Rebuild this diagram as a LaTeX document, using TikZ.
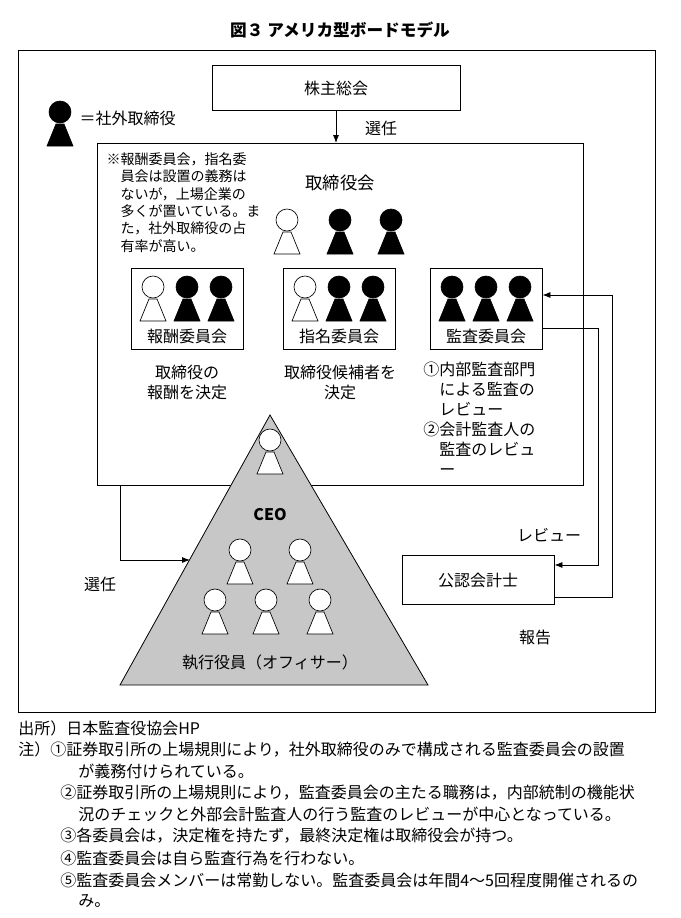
\documentclass[tikz,border=0pt]{standalone}
\usepackage{fontspec}
\setmainfont{Noto Sans CJK JP}
\usetikzlibrary{arrows.meta}
\begin{document}
\begin{tikzpicture}[x=0.75pt, y=-0.75pt,
    box/.style={draw, line width=0.6pt},
    txt/.style={font=\fontsize{12}{15}\selectfont},
    note/.style={font=\fontsize{10.5}{13}\selectfont, align=left, anchor=north west},
    foot/.style={font=\fontsize{12}{15}\selectfont, anchor=west, inner sep=0pt},
    arr/.style={-{Latex[length=6pt]}, line width=0.6pt},
    pics/person/.style={code={
      \draw[fill=#1, line width=0.5pt] (-13,34) -- (-4,12) -- (4,12) -- (13,34) -- cycle;
      \draw[fill=#1, line width=0.5pt] (0,0) circle[radius=11];}}]
  \useasboundingbox (0,0) rectangle (681,918);
  % title and frame
  \node[font=\bfseries\fontsize{12.5}{15}\selectfont] (title) at (340,30) {図３ アメリカ型ボードモデル};
  \draw[line width=0.6pt] (18,50) rectangle (655,712);
  % legend
  \pic at (60,112) {person=black};
  \node[txt, anchor=west] (legend) at (75,118) {＝社外取締役};
  % shareholders
  \node[box, minimum width=186pt, minimum height=34pt, txt] (share) at (336,88) {株主総会};
  \coordinate (boardtop) at (336,143);
  \draw[arr] (share) -- (boardtop);
  \node[txt] (elect1) at (381,128) {選任};
  % board
  \draw[line width=0.6pt] (97,143) rectangle (583,485);
  \node[note] (remark) at (102,148) {※報酬委員会，指名委\\\hspace*{1em}員会は設置の義務は\\\hspace*{1em}ないが，上場企業の\\\hspace*{1em}多くが置いている。ま\\\hspace*{1em}た，社外取締役の占\\\hspace*{1em}有率が高い。};
  \node[txt, font=\fontsize{13}{15}\selectfont] (board) at (340,183) {取締役会};
  \pic at (287,220) {person=white};
  \pic at (340,220) {person=black};
  \pic at (391,220) {person=black};
  % committees
  \node[box, minimum width=84pt, minimum height=61pt] (comp) at (187,309) {};
  \node[box, minimum width=84pt, minimum height=61pt] (nomi) at (339,309) {};
  \node[box, minimum width=84pt, minimum height=61pt] (audit) at (486,309) {};
  \foreach \cx/\lab in {187/報酬委員会, 339/指名委員会, 486/監査委員会} {
    \node[txt] at (\cx,336) {\lab};
  }
  \pic at (153,287) {person=white};
  \pic at (187,287) {person=black};
  \pic at (221,287) {person=black};
  \pic at (305,287) {person=white};
  \pic at (339,287) {person=black};
  \pic at (373,287) {person=black};
  \pic at (452,287) {person=black};
  \pic at (486,287) {person=black};
  \pic at (520,287) {person=black};
  \node[txt, align=center] (compdo) at (187,382) {取締役の\\報酬を決定};
  \node[txt, align=center] (nomido) at (340,382) {取締役候補者を\\決定};
  \node[txt, align=left, anchor=north west, inner sep=0pt] (auditdo) at (423,362)
    {①内部監査部門\\\hspace*{1em}による監査の\\\hspace*{1em}レビュー\\②会計監査人の\\\hspace*{1em}監査のレビュ\\\hspace*{1em}ー};
  % officers
  \draw[fill=black!22, line width=0.6pt] (270,415) -- (428,685) -- (120,685) -- cycle;
  \pic at (270,440) {person=white};
  \node[font=\bfseries\fontsize{12}{15}\selectfont] (ceo) at (270,515) {CEO};
  \pic at (240,550) {person=white};
  \pic at (300,550) {person=white};
  \pic at (215,600) {person=white};
  \pic at (266,600) {person=white};
  \pic at (320,600) {person=white};
  \node[txt] (officer) at (270,662) {執行役員（オフィサー）};
  \coordinate (boardleft) at (120,485);
  \coordinate (triedge) at (190,560);
  \draw[arr] (boardleft) |- (triedge);
  \node[txt] (elect2) at (100,584) {選任};
  % CPA
  \node[box, minimum width=114pt, minimum height=37pt, txt] (cpa) at (478,580) {公認会計士};
  \draw[arr] (audit.east |- 0,328) -| (598,565) -- (cpa.east |- 0,565);
  \draw[arr] (cpa.east |- 0,597) -| (612,295) -- (audit.east |- 0,295);
  \node[txt] (review) at (549,535) {レビュー};
  \node[txt] (report) at (535,637) {報告};
  % footnotes
  \node[foot] (src) at (18,728) {出所）日本監査役協会HP};
  \node[foot] at (18,749) {注）①証券取引所の上場規則により，社外取締役のみで構成される監査委員会の設置};
  \node[foot] at (78,771) {が義務付けられている。};
  \node[foot] at (60,793) {②証券取引所の上場規則により，監査委員会の主たる職務は，内部統制の機能状};
  \node[foot] at (78,814) {況のチェックと外部会計監査人の行う監査のレビューが中心となっている。};
  \node[foot] at (60,836) {③各委員会は，決定権を持たず，最終決定権は取締役会が持つ。};
  \node[foot] at (60,858) {④監査委員会は自ら監査行為を行わない。};
  \node[foot] at (60,880) {⑤監査委員会メンバーは常勤しない。監査委員会は年間4～5回程度開催されるの};
  \node[foot] at (78,901) {み。};
\end{tikzpicture}
\end{document}
